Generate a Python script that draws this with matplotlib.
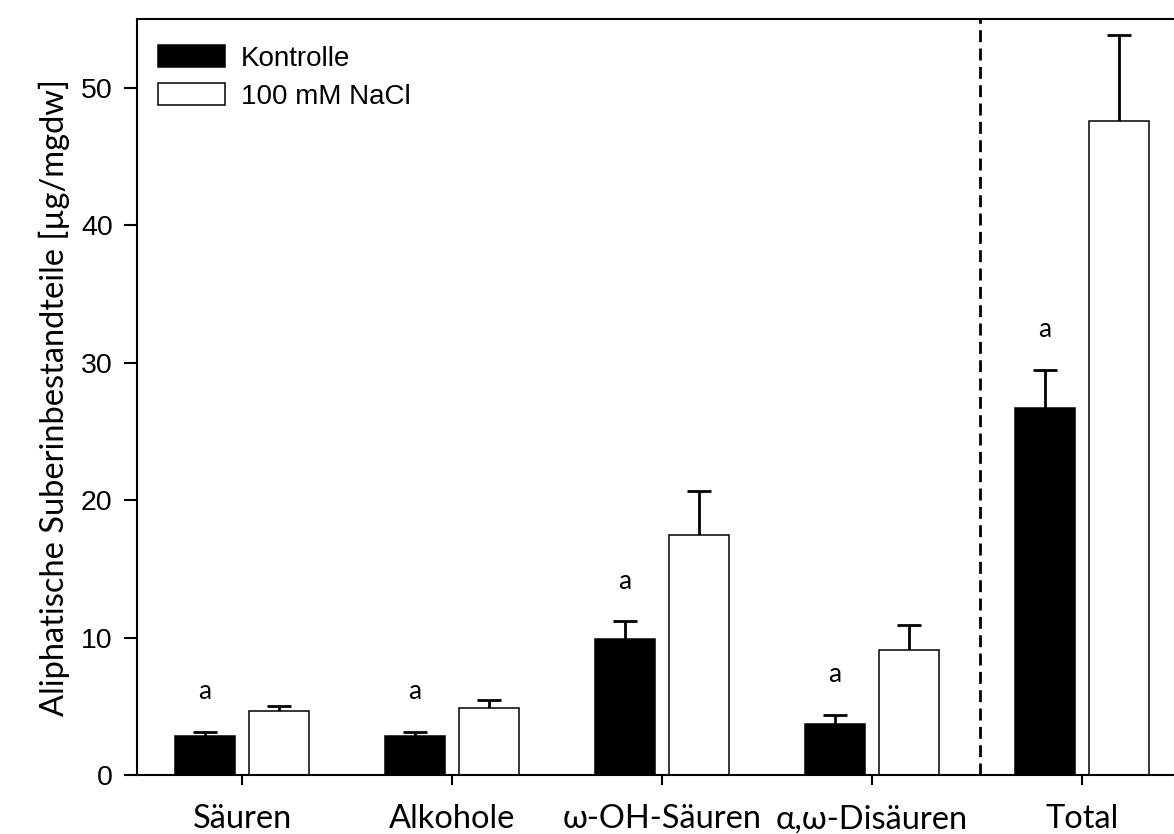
import numpy as np
import matplotlib
matplotlib.use('Agg')
import matplotlib.pyplot as plt

# Daten
kategorien = ['Säuren', 'Alkohole', 'ω-OH-Säuren', 'α,ω-Disäuren', 'Total']
kontrolle = [2.85, 2.85, 9.9, 3.7, 26.7]
kontrolle_err = [0.3, 0.3, 1.3, 0.7, 2.8]
nacl = [4.65, 4.9, 17.45, 9.1, 47.55]
nacl_err = [0.35, 0.55, 3.2, 1.8, 6.25]
signif = ['a', 'a', 'a', 'a', 'a']

W, H = 1174, 834
fig = plt.figure(figsize=(W / 100, H / 100), dpi=100)
left, right, bottom, top = 137, 1187, 775, 19
ax = fig.add_axes([left / W, 1 - bottom / H, (right - left) / W, (bottom - top) / H])

x = np.arange(len(kategorien))
bw = 0.286
off = 0.176


def balken(pos, werte, fehler, farbe, label):
    ax.bar(pos, werte, bw, color=farbe, edgecolor='black', linewidth=1.1,
           label=label, zorder=2)
    oben = np.array(werte) + np.array(fehler)
    # nur nach oben gerichtete Fehlerbalken
    ax.vlines(pos, werte, oben, color='black', linewidth=2.0, zorder=1)
    ax.plot(pos, oben, ls='none', marker='_', ms=17, mew=2.0, color='black', zorder=1)


balken(x - off, kontrolle, kontrolle_err, 'black', 'Kontrolle')
balken(x + off, nacl, nacl_err, 'white', '100 mM NaCl')

for xi, v, e, s in zip(x, kontrolle, kontrolle_err, signif):
    ax.text(xi - off, v + e + 2.9, s, ha='center', va='center',
            fontsize=19, family='Lato')

ax.axvline(3.514, color='black', linestyle=(0, (4.3, 2.3)), linewidth=2.0)

ax.set_xlim(-0.5, 4.5)
ax.set_ylim(0, 55)
ax.set_yticks([0, 10, 20, 30, 40, 50])
ax.set_xticks(x)
ax.set_xticklabels(kategorien, family='Lato', fontsize=23.5)
for lab in ax.get_yticklabels():
    lab.set_family('Liberation Sans')
    lab.set_fontsize(20.5)
ax.tick_params(axis='y', direction='out', length=9.5, width=1.5, pad=8)
ax.tick_params(axis='x', direction='out', length=7, width=1.5, pad=14)
for sp in ax.spines.values():
    sp.set_linewidth(1.5)

ax.set_ylabel('Aliphatische Suberinbestandteile [µg/mgdw]', family='Lato',
              fontsize=23.5, labelpad=8)

ax.legend(loc='upper left', frameon=False, prop={'family': 'Liberation Sans', 'size': 20},
          handlelength=2.4, handleheight=0.85, handletextpad=0.6, labelspacing=0.4,
          bbox_to_anchor=(0.0, 0.993), borderaxespad=0.35)

fig.savefig('out.png', dpi=100)
